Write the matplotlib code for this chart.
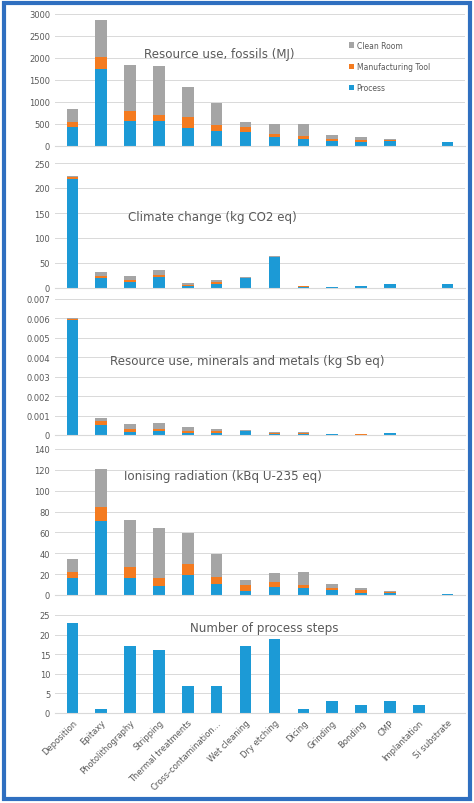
import numpy as np
import matplotlib
matplotlib.use('Agg')
import matplotlib.pyplot as plt
from matplotlib.patches import Rectangle

steps = ['Deposition', 'Epitaxy', 'Photolithography', 'Stripping', 'Thermal treatments',
         'Cross-contamination...', 'Wet cleaning', 'Dry etching', 'Dicing', 'Grinding',
         'Bonding', 'CMP', 'Implantation', 'Si substrate']

# Werte: Process, Manufacturing Tool, Clean Room (gestapelt)
fossil_proc = [430, 1750, 570, 560, 420, 340, 320, 200, 160, 110, 80, 110, 5, 90]
fossil_tool = [120, 280, 230, 150, 240, 130, 110, 80, 70, 50, 50, 20, 1, 0]
fossil_room = [300, 830, 1030, 1100, 670, 510, 110, 220, 260, 100, 70, 40, 4, 0]

climate_proc = [219, 20, 12, 23, 4, 9, 20, 62, 3, 2, 3.5, 8, 0.5, 8]
climate_tool = [4, 5, 5, 4, 2, 4, 1, 1, 0.5, 0.2, 0.3, 0, 0, 0]
climate_room = [2, 7, 7, 9, 5, 3, 1, 1, 0.5, 0.3, 0.2, 0, 0, 0]

mineral_proc = [0.0059, 0.0005, 0.00015, 0.0002, 0.0001, 0.0001, 0.0002, 0.00005, 0.00005, 0.00003, 0.00002, 0.0001, 0.00001, 0.00001]
mineral_tool = [0.00005, 0.0002, 0.00015, 0.0001, 0.0001, 0.0001, 0.00002, 0.00005, 0.00005, 0.00001, 0.00001, 0, 0, 0]
mineral_room = [0.00005, 0.00015, 0.00025, 0.0003, 0.0002, 0.0001, 0.00003, 0.00005, 0.00005, 0.00002, 0.00001, 0, 0, 0]

ion_proc = [16, 71, 16, 9, 19, 11, 4, 8, 7, 5, 2, 2, 0.2, 0.5]
ion_tool = [6, 13, 11, 7, 11, 6, 6, 4, 3, 2, 3, 1, 0, 0]
ion_room = [13, 37, 45, 48, 29, 22, 4, 9, 12, 4, 2, 1, 0, 0]

n_steps = [23, 1, 17, 16, 7, 7, 17, 19, 1, 3, 2, 3, 2, 0]

blue, orange, gray = '#1c9ad6', '#f47b20', '#a5a5a5'
tc = '#595959'

fig = plt.figure(figsize=(4.74, 8.04), dpi=100)
fig.patches.append(Rectangle((0.008, 0.005), 0.984, 0.99, transform=fig.transFigure,
                             fill=False, edgecolor='#2f6fc0', linewidth=3))

W, H = 474, 804
def axes_px(top, bottom):
    return fig.add_axes([55 / W, 1 - bottom / H, 410 / W, (bottom - top) / H])

x = np.arange(len(steps))
panels = [
    (15, 147, fossil_proc, fossil_tool, fossil_room, 'Resource use, fossils (MJ)', (0.40, 0.70), 3000, 500),
    (164, 289, climate_proc, climate_tool, climate_room, 'Climate change (kg CO2 eq)', (0.385, 0.57), 250, 50),
    (300, 436, mineral_proc, mineral_tool, mineral_room, 'Resource use, minerals and metals (kg Sb eq)', (0.47, 0.55), 0.007, 0.001),
    (450, 596, ion_proc, ion_tool, ion_room, 'Ionising radiation (kBq U-235 eq)', (0.41, 0.82), 140, 20),
]

def style(ax, ymax, step):
    ax.set_ylim(0, ymax)
    ax.set_yticks(np.arange(0, ymax + step / 2, step))
    ax.set_xlim(-0.6, len(steps) - 0.4)
    ax.grid(axis='y', color='#d9d9d9', linewidth=0.7)
    ax.set_axisbelow(True)
    for s in ['top', 'right', 'left']:
        ax.spines[s].set_visible(False)
    ax.spines['bottom'].set_color('#d9d9d9')
    ax.tick_params(axis='y', length=0, labelsize=6, labelcolor=tc)
    ax.tick_params(axis='x', length=0)

for i, (top, bot, p, t, r, title, pos, ymax, step) in enumerate(panels):
    ax = axes_px(top, bot)
    p, t, r = np.array(p), np.array(t), np.array(r)
    ax.bar(x, p, 0.4, color=blue, label='Process')
    ax.bar(x, t, 0.4, bottom=p, color=orange, label='Manufacturing Tool')
    ax.bar(x, r, 0.4, bottom=p + t, color=gray, label='Clean Room')
    style(ax, ymax, step)
    if i == 2:
        ax.set_yticklabels(['0'] + ['%.3f' % v for v in np.arange(step, ymax + step / 2, step)])
    ax.set_xticklabels([])
    ax.text(pos[0], pos[1], title, transform=ax.transAxes, ha='center', va='center',
            fontsize=8.6, color=tc)
    if i == 0:
        h, l = ax.get_legend_handles_labels()
        ax.legend(h[::-1], l[::-1], loc='upper left', bbox_to_anchor=(0.7, 0.85), frameon=False,
                  fontsize=5.5, labelcolor=tc, handlelength=0.7, handleheight=0.7,
                  labelspacing=1.6, handletextpad=0.3)

ax = axes_px(616, 714)
ax.bar(x, n_steps, 0.4, color=blue)
style(ax, 25, 5)
ax.set_xticks(x)
ax.set_xticklabels(steps, rotation=45, ha='right', rotation_mode='anchor', fontsize=6, color=tc)
ax.text(0.51, 0.87, 'Number of process steps', transform=ax.transAxes, ha='center', va='center',
        fontsize=8.6, color=tc)

fig.savefig('out.png', dpi=100)
